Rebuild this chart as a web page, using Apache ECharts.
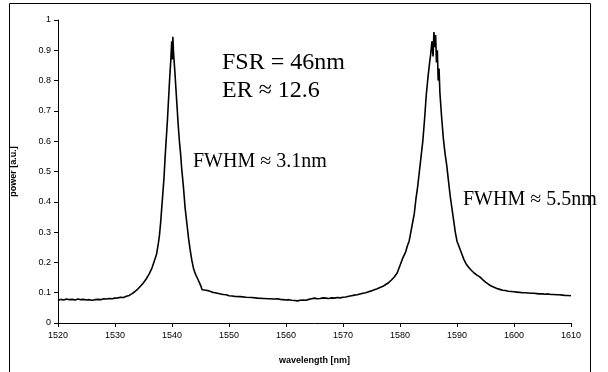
<!DOCTYPE html>
<html>
<head>
<meta charset="utf-8">
<script src="https://cdn.jsdelivr.net/npm/echarts@6/dist/echarts.min.js"></script>
<style>html,body{margin:0;padding:0;background:#fff}#c{width:608px;height:372px}</style>
</head>
<body>
<div id="c"></div>
<script>
const wavelength = [
1520,1520.5,1521,1521.5,1522,1522.5,1523,1523.5,1524,1524.5,1525,1525.5,1526,1526.5,1527,1527.5,1528,1528.5,1529,1529.5,
1530,1530.5,1531,1531.5,1532,1532.5,1533,1533.5,1534,1534.5,1535,1535.5,1536,1536.5,1537,1537.3,1537.6,1537.8,1538,1538.2,
1538.4,1538.6,1538.8,1539,1539.2,1539.4,1539.6,1539.8,1539.95,1540.05,1540.15,1540.25,1540.35,1540.5,1540.7,1540.9,1541.1,1541.3,1541.5,1541.7,
1542,1542.3,1542.6,1542.9,1543.2,1543.5,1543.8,1544.1,1544.5,1545,1545.3,1545.6,1546,1546.5,1547,1547.5,1548,1548.5,1549,1549.5,
1550,1550.5,1551,1552,1553,1554,1555,1556,1557,1558,1558.5,1559,1559.5,1560,1560.5,1561,1561.5,1562,1562.5,1563,
1563.5,1564,1564.5,1565,1565.5,1566,1566.5,1567,1567.5,1568,1568.5,1569,1569.5,1570,1570.5,1571,1571.5,1572,1572.5,1573,
1573.5,1574,1574.5,1575,1575.5,1576,1576.5,1577,1577.5,1578,1578.5,1579,1579.5,1580,1580.5,1581,1581.3,1581.6,1581.9,1582.2,
1582.5,1582.8,1583.1,1583.4,1583.7,1584,1584.3,1584.6,1584.9,1585.2,1585.4,1585.6,1585.8,1585.95,1586.1,1586.25,1586.4,1586.55,1586.7,1586.85,
1587,1587.3,1587.6,1587.9,1588.2,1588.5,1588.8,1589.1,1589.4,1589.7,1590,1590.4,1590.8,1591.2,1591.6,1592,1592.5,1593,1593.5,1594,
1594.5,1595,1595.5,1596,1596.5,1597,1597.5,1598,1598.5,1599,1599.5,1600,1600.5,1601,1601.5,1602,1602.5,1603,1603.5,1604,
1604.5,1605,1605.5,1606,1606.5,1607,1607.5,1608,1608.5,1609,1609.5,1610
];
const power = [
0.074,0.078,0.076,0.079,0.077,0.078,0.076,0.079,0.077,0.078,0.076,0.077,0.075,0.077,0.078,0.077,0.080,0.079,0.081,0.080,
0.082,0.083,0.085,0.084,0.088,0.091,0.097,0.104,0.112,0.122,0.133,0.146,0.162,0.182,0.210,0.228,0.262,0.290,0.330,0.380,
0.430,0.480,0.550,0.610,0.670,0.740,0.810,0.870,0.930,0.870,0.945,0.900,0.870,0.830,0.770,0.710,0.650,0.600,0.560,0.510,
0.450,0.380,0.330,0.280,0.240,0.205,0.178,0.162,0.146,0.125,0.110,0.116,0.108,0.106,0.102,0.100,0.098,0.096,0.094,0.093,
0.090,0.089,0.088,0.087,0.085,0.084,0.082,0.081,0.080,0.079,0.080,0.078,0.077,0.076,0.077,0.075,0.074,0.073,0.075,0.076,
0.075,0.078,0.080,0.082,0.080,0.081,0.083,0.082,0.081,0.083,0.082,0.084,0.083,0.085,0.086,0.088,0.090,0.092,0.093,0.096,
0.098,0.100,0.103,0.106,0.110,0.113,0.117,0.121,0.127,0.133,0.142,0.152,0.165,0.190,0.215,0.235,0.255,0.270,0.300,0.330,
0.360,0.410,0.450,0.500,0.550,0.600,0.670,0.750,0.810,0.860,0.890,0.930,0.880,0.960,0.910,0.950,0.860,0.900,0.800,0.840,
0.760,0.680,0.610,0.560,0.520,0.470,0.420,0.380,0.340,0.300,0.270,0.250,0.230,0.210,0.195,0.185,0.174,0.165,0.158,0.152,
0.143,0.135,0.128,0.122,0.118,0.114,0.111,0.108,0.107,0.105,0.104,0.103,0.102,0.101,0.100,0.100,0.099,0.098,0.098,0.097,
0.096,0.096,0.095,0.096,0.094,0.094,0.093,0.093,0.092,0.091,0.091,0.090
];
const xTicks = {min: 1520, max: 1610, step: 10};
const yTicks = {min: 0, max: 1, step: 0.1};
const notes = [
  {text: 'FSR = 46nm', x: 222, y: 63, size: 24},
  {text: 'ER \u2248 12.6', x: 222, y: 91, size: 24},
  {text: 'FWHM \u2248 3.1nm', x: 193, y: 162, size: 20},
  {text: 'FWHM \u2248 5.5nm', x: 463, y: 200, size: 20}
];

const data = wavelength.map((w, i) => [w, power[i]]);
const chart = echarts.init(document.getElementById('c'), null, {renderer: 'canvas'});
const axisFont = {fontFamily: '"Liberation Sans", Arial, sans-serif', fontSize: 9, color: '#000'};
chart.setOption({
  animation: false,
  backgroundColor: '#fff',
  grid: {left: 58, right: 37, top: 20, bottom: 49, containLabel: false},
  xAxis: {
    type: 'value', min: xTicks.min, max: xTicks.max, interval: xTicks.step,
    name: 'wavelength [nm]', nameLocation: 'middle', nameGap: 33,
    nameTextStyle: Object.assign({}, axisFont, {fontWeight: 'bold'}),
    axisLine: {show: true, lineStyle: {color: '#000', width: 1}},
    axisTick: {show: true, inside: false, length: 4, lineStyle: {color: '#000'}},
    axisLabel: Object.assign({}, axisFont, {margin: 8, formatter: v => String(v)}),
    splitLine: {show: false}
  },
  yAxis: {
    type: 'value', min: yTicks.min, max: yTicks.max, interval: yTicks.step,
    name: 'power [a.u.]', nameLocation: 'middle', nameGap: 40, nameRotate: 90,
    nameTextStyle: Object.assign({}, axisFont, {fontWeight: 'bold'}),
    axisLine: {show: true, lineStyle: {color: '#000', width: 1}},
    axisTick: {show: true, inside: false, length: 4, lineStyle: {color: '#000'}},
    axisLabel: Object.assign({}, axisFont, {margin: 7, formatter: v => String(Math.round(v * 10) / 10)}),
    splitLine: {show: false}
  },
  series: [{
    type: 'line', data: data, showSymbol: false, smooth: false,
    lineStyle: {color: '#000', width: 1.6}
  }],
  graphic: [
    {type: 'rect', shape: {x: 9.5, y: 3.5, width: 581, height: 380}, style: {fill: 'none', stroke: '#000', lineWidth: 1}, silent: true}
  ].concat(notes.map(n => ({
    type: 'text', x: n.x, y: n.y,
    style: {text: n.text, fill: '#000', font: n.size + 'px "Liberation Serif", "Times New Roman", serif', textVerticalAlign: 'middle', verticalAlign: 'middle'}
  })))
});
</script>
</body>
</html>
